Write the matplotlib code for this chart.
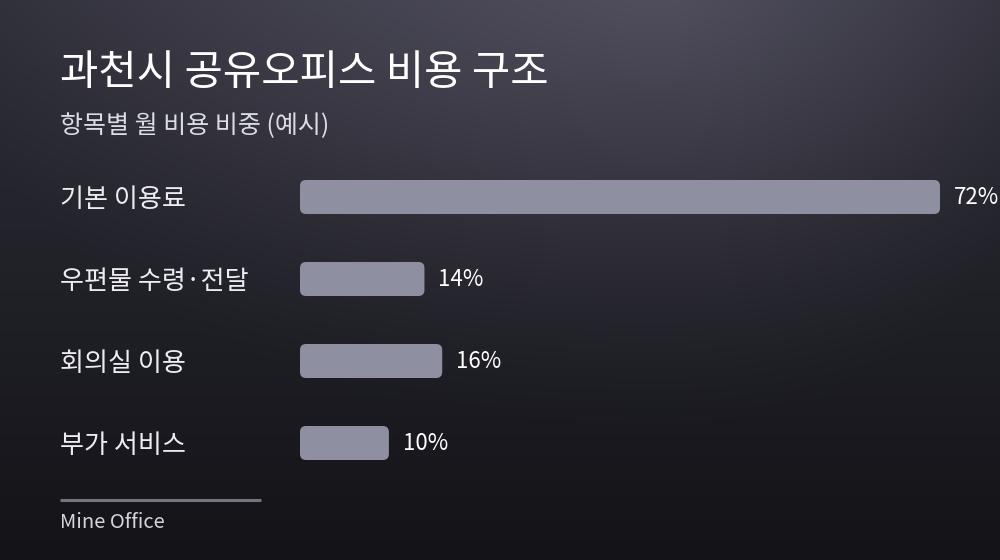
import numpy as np
import matplotlib
matplotlib.use("Agg")
import matplotlib.pyplot as plt
from matplotlib.patches import FancyBboxPatch

plt.rcParams['font.family'] = ['Noto Sans CJK KR', 'DejaVu Sans']

title = "과천시 공유오피스 비용 구조"
subtitle = "항목별 월 비용 비중 (예시)"
categories = ["기본 이용료", "우편물 수령·전달", "회의실 이용", "부가 서비스"]
values = [72, 14, 16, 10]
value_labels = ["72%", "14%", "16%", "10%"]
source = "Mine Office"

W, H = 1000, 560
fig = plt.figure(figsize=(W / 100, H / 100), dpi=100)

# background gradient
yy, xx = np.mgrid[0:H, 0:W].astype(float)
c_hi = np.array([0x50, 0x4e, 0x5d]) / 255
c_mid = np.array([0x2e, 0x2e, 0x38]) / 255
c_lo = np.array([0x13, 0x13, 0x18]) / 255
dx = (xx - 660)
rx = np.where(dx < 0, 720, 420)
t = np.sqrt((dx / rx) ** 2 + (yy / 430) ** 2)
t = np.clip(t, 0, 1)
rad = 1 - t ** 1.2
base_v = np.clip(yy / H, 0, 1)
base = c_mid[None, None, :] * (1 - base_v[..., None]) + c_lo[None, None, :] * base_v[..., None]
img = base + (c_hi - c_mid)[None, None, :] * rad[..., None] * np.clip(1 - yy / 500, 0, 1)[..., None] ** 0.5
img = np.clip(img, 0, 1)
bg = fig.add_axes([0, 0, 1, 1])
bg.imshow(img, extent=[0, W, H, 0], aspect='auto', interpolation='bilinear')
bg.set_xlim(0, W)
bg.set_ylim(H, 0)
bg.axis('off')

# texts
bg.text(60, 74, title, color='white', fontsize=30, va='center', ha='left')
bg.text(60, 126, subtitle, color='#dcdce4', fontsize=18, va='center', ha='left')
bg.plot([60, 261], [500, 500], color='#76747f', lw=2.2, solid_capstyle='butt')
bg.text(60, 523, source, color='#d4d4dc', fontsize=14.5, va='center', ha='left')

# bar axes
px_per_unit = 640 / 72
left_px = 300
ax_w_px = W - left_px
top_px, bot_px = 156, 484
ax = fig.add_axes([left_px / W, 1 - bot_px / H, ax_w_px / W, (bot_px - top_px) / H])
ax.set_xlim(0, ax_w_px / px_per_unit)
ax.set_ylim(len(categories) - 0.5, -0.5)
ax.axis('off')
ax.patch.set_alpha(0)

bar_h = 34 / 82
ypos = np.arange(len(categories))
bars = ax.barh(ypos, values, height=bar_h, color='none')
x_per_px = 1 / px_per_unit
y_per_px = 1 / 82
r_px = 6
for b, lab, cat, y in zip(bars, value_labels, categories, ypos):
    x0, y0, w, h = b.get_x(), b.get_y(), b.get_width(), b.get_height()
    b.set_visible(False)
    p = FancyBboxPatch((x0, y0), w, h,
                       boxstyle=f"round,pad=0,rounding_size={r_px * x_per_px}",
                       mutation_aspect=y_per_px / x_per_px,
                       facecolor='#8e8fa1', edgecolor='none')
    ax.add_patch(p)
    ax.annotate(lab, (x0 + w, y), xytext=(10, 0), textcoords='offset points',
                color='white', fontsize=16, va='center', ha='left', annotation_clip=False)
    ax.annotate(cat, (0, y), xycoords=('figure fraction', 'data'),
                xytext=(60 * 0.72, -1.5), textcoords='offset points',
                color='#ececf2', fontsize=18.8, va='center', ha='left', annotation_clip=False)

fig.savefig("out.png", dpi=100)
